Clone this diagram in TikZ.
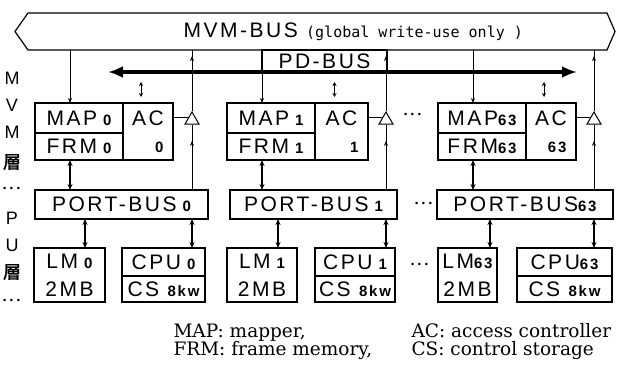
\documentclass[tikz,border=0pt]{standalone}
\usepackage{fontspec}
\setmainfont{Liberation Sans}[LetterSpace=12]
\newfontfamily\monofont{DejaVu Sans Mono}
\newfontfamily\legendfont{DejaVu Serif}
\newfontfamily\cjk{Noto Sans CJK JP}[FakeBold=1.5]
\usetikzlibrary{shapes.geometric,arrows.meta,decorations.markings,calc}
\newcommand\tagno[1]{{\fontsize{15}{15}\selectfont\bfseries #1}}

\tikzset{
  cell/.style={draw, line width=1.4pt, inner sep=0pt, outer sep=0pt, anchor=north west,
    font=\fontsize{21}{28}\selectfont},
  buffer/.style={draw, line width=1pt, fill=white, regular polygon, regular polygon sides=3,
    minimum size=16pt, inner sep=0pt},
  wire/.style={line width=0.8pt},
  fat/.style={line width=1.3pt, {Stealth[length=6pt,width=5pt]}-{Stealth[length=6pt,width=5pt]}},
  smallud/.style={line width=0.9pt, {Stealth[length=4pt,width=4pt]}-{Stealth[length=4pt,width=4pt]}},
  upmark/.style={postaction={decorate,decoration={markings,
    mark=at position #1 with {\arrow{Stealth[length=5pt,width=4pt]}}}}},
}

\begin{document}
\begin{tikzpicture}[x=1pt,y=-1pt]
\useasboundingbox (0,0) rectangle (621,369);
% MVM-BUS
\draw[line width=1.2pt] (28,13) -- (607,13) -- (615,31.5) -- (607,50) -- (28,50) -- (15,31.5) -- cycle;
\node[anchor=west, font=\fontsize{21}{21}\selectfont] (mvm) at (180,32)
  {MVM-BUS {\monofont\fontsize{15}{15}\selectfont(global write-use only )}};
\coordinate (busS) at (0,50);
% PD-BUS
\coordinate (pdY) at (0,72);
\coordinate (pdL) at (108,72);
\coordinate (pdR) at (577,72);
\draw[line width=3.5pt, {Latex[length=15pt,width=12pt]}-{Latex[length=15pt,width=12pt]}] (pdL) -- (pdR);
\node[cell, minimum width=125pt, minimum height=22pt] (pd) at (262,50) {PD-BUS};

\foreach \g/\sfx/\xl/\xd/\xr/\xt/\pl/\pr/\ml/\mr/\cl/\cc/\xm in {
  0/{\ 0}/35/123/173/192/35/208/34/105/122/205/85,
  1/{\ 1}/227/315/368/386/230/397/227/297/315/395/278,
  63/{63}/438/526/576/594/437/613/438/497/517/612/490}{
  % MVM layer
  \node[cell, minimum width={(\xd-\xl)*1pt}, minimum height=30pt] (map\g) at (\xl,103) {MAP\tagno{\sfx}};
  \node[cell, minimum width={(\xd-\xl)*1pt}, minimum height=27pt] (frm\g) at (\xl,133) {FRM\tagno{\sfx}};
  \node[cell, minimum width={(\xr-\xd)*1pt}, minimum height=57pt] (ac\g) at (\xd,103) {};
  \node[font=\fontsize{21}{21}\selectfont] (acname\g) at ($(ac\g.north)+(0,15)$) {AC};
  \node[anchor=east] (acno\g) at ($(ac\g.south east)+(-6,-13)$) {\tagno{\g}};
  \node[buffer] (tri\g) at (\xt,120) {};
  % PU layer
  \node[cell, minimum width={(\pr-\pl)*1pt}, minimum height=29pt] (port\g) at (\pl,190) {PORT-BUS\tagno{\sfx}};
  \node[cell, align=center, minimum width={(\mr-\ml)*1pt}, minimum height=54pt] (lm\g) at (\ml,248) {LM\tagno{\sfx}\\2MB};
  \node[cell, minimum width={(\cc-\cl)*1pt}, minimum height=28pt] (cpu\g) at (\cl,248) {CPU\tagno{\sfx}};
  \node[cell, minimum width={(\cc-\cl)*1pt}, minimum height=26pt] (cs\g) at (\cl,276) {CS \tagno{8kw}};
  % connectors
  \coordinate (dn\g) at (\xl+35,103);
  \coordinate (lma\g) at (\xm,248);
  \draw[wire, -{Stealth[length=5pt,width=4pt]}] (dn\g |- busS) -- (dn\g);
  \draw[wire, upmark=0.9] (tri\g.corner 1) -- (tri\g.corner 1 |- busS);
  \draw[wire, upmark=0.75] (tri\g.south |- port\g.north) -- (tri\g.south);
  \draw[wire] (ac\g.east |- tri\g.side 1) -- (tri\g.side 1);
  \draw[smallud] ($(ac\g.north)+(-7,-6)$) -- ($(ac\g.north |- pdY)+(-7,10)$);
  \draw[fat] (dn\g |- frm\g.south) -- (dn\g |- port\g.north);
  \draw[fat] (lma\g |- port\g.south) -- (lma\g |- lm\g.north);
  \draw[fat] (tri\g.south |- port\g.south) -- (tri\g.south |- cpu\g.north);
}
% gaps between units
\node (gap1) at (413,116) {\tagno{···}};
\node (gap2) at (424,205) {\tagno{···}};
\node (gap3) at (420,266) {\tagno{···}};
% side labels
\foreach \lbl/\y [count=\k] in {M/78, V/105, M/132, {\cjk 層}/162, {\tagno{···}}/190,
    P/218, U/245, {\cjk 層}/272, {\tagno{···}}/302}
  \node[font=\fontsize{18}{18}\selectfont] (side\k) at (12,\y) {\lbl};
% legend
\begin{scope}[font=\legendfont\fontsize{18.5}{18.5}\selectfont]
\node[anchor=base west] (keymap) at (170,337) {MAP: mapper,};
\node[anchor=base west] (keyac) at (408,337) {AC: access controller};
\node[anchor=base west] (keyfrm) at (170,355) {FRM: frame memory,};
\node[anchor=base west] (keycs) at (408,355) {CS: control storage};
\end{scope}
\end{tikzpicture}
\end{document}
